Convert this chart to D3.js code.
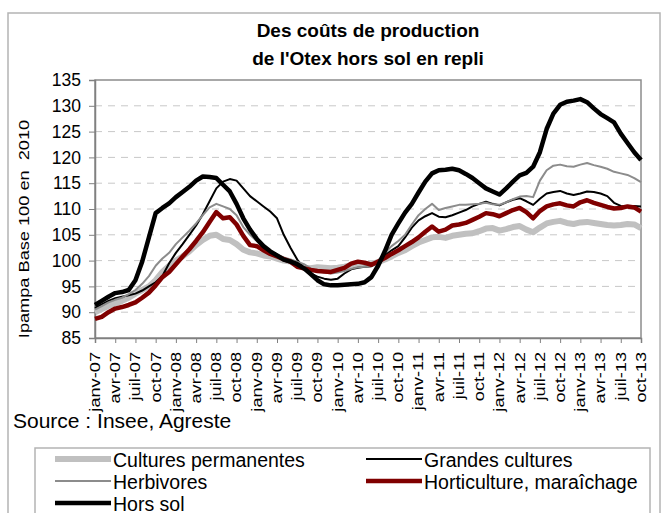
<!DOCTYPE html>
<html>
<head>
<meta charset="utf-8">
<script src="https://cdn.jsdelivr.net/npm/d3@7"></script>
<style>
  body { margin: 0; background: #fff; }
  svg text { font-family: Arial, "Liberation Sans", sans-serif; fill: #000; }
</style>
</head>
<body>
<svg id="chart" width="669" height="513"></svg>
<script>
// monthly index, janv-07 = 0 ... oct-13 = 81
const tickLabels = [
  "janv-07", "avr-07", "juil-07", "oct-07", "janv-08", "avr-08", "juil-08", "oct-08",
  "janv-09", "avr-09", "juil-09", "oct-09", "janv-10", "avr-10", "juil-10", "oct-10",
  "janv-11", "avr-11", "juil-11", "oct-11", "janv-12", "avr-12", "juil-12", "oct-12",
  "janv-13", "avr-13", "juil-13", "oct-13"
];
const yTicks = [85, 90, 95, 100, 105, 110, 115, 120, 125, 130, 135];

const culturesPermanentes = [
  90.0, 90.6, 91.2, 91.7, 92.2, 92.8, 93.6, 94.3, 95.0, 96.2, 97.8, 99.0,
  100.0, 100.8, 101.8, 103.0, 104.0, 104.8, 105.0, 104.2, 104.0, 103.2, 102.1, 101.6,
  101.4, 101.0, 100.8, 100.4, 100.0, 99.8, 99.2, 98.6, 98.5, 98.7, 98.6, 98.5,
  98.6, 98.8, 99.1, 99.2, 99.3, 99.3, 99.7, 100.2, 100.8, 101.5, 102.0, 102.8,
  103.5, 104.0, 104.5, 104.6, 104.4, 104.8, 105.0, 105.2, 105.3, 105.7, 106.2, 106.3,
  105.8, 106.1, 106.5, 106.7, 106.0, 105.5, 106.4, 107.2, 107.5, 107.7, 107.3, 107.1,
  107.4, 107.5, 107.3, 107.1, 106.9, 106.8, 106.9, 107.1, 107.0, 106.3
];
const grandesCultures = [
  90.8, 91.5, 92.2, 92.7, 93.0, 93.3, 93.6, 94.2, 95.0, 95.8, 97.0, 99.5,
  101.5, 103.2, 105.0, 106.8, 109.0, 111.5, 114.0, 115.3, 115.8, 115.5, 114.0, 112.5,
  111.5, 110.5, 109.5, 108.2, 105.0, 102.5, 100.2, 98.5, 97.5, 96.9, 96.5, 96.3,
  96.5, 97.5, 98.3, 98.6, 98.8, 98.9, 99.8, 101.0, 102.0, 102.8, 104.5, 106.4,
  107.8, 108.6, 109.2, 108.5, 108.4, 108.8, 109.3, 109.8, 110.5, 111.0, 111.4, 111.0,
  110.7, 111.3, 111.8, 112.1, 111.5, 110.8, 112.0, 113.0, 113.3, 113.5, 113.0, 112.7,
  113.0, 113.4, 113.3, 113.0, 112.5, 111.2, 110.6, 110.5, 110.6, 110.5
];
const herbivores = [
  90.5, 91.2, 91.9, 92.4, 92.8, 93.5, 94.3, 95.5, 97.0, 99.0, 100.4, 101.5,
  103.2, 104.5, 105.8, 107.2, 108.8, 110.3, 111.0, 110.5, 110.0, 108.8, 106.5, 105.0,
  103.8, 102.5, 101.8, 101.2, 100.6, 100.2, 99.8, 99.3, 98.5, 98.0, 97.7, 97.5,
  97.7, 98.0, 98.4, 98.7, 98.8, 99.0, 100.0, 101.5, 102.8, 103.8, 105.0, 107.0,
  108.8, 110.0, 111.0, 109.8, 110.2, 110.5, 110.8, 110.8, 110.9, 111.0, 111.2, 110.9,
  110.8, 111.3, 111.9, 112.4, 112.5, 112.3, 115.5, 117.5, 118.4, 118.6, 118.3, 118.2,
  118.6, 118.9, 118.5, 118.2, 117.8, 117.2, 116.9, 116.6, 116.0, 115.2
];
const horticulture = [
  88.7, 89.1, 90.0, 90.7, 91.0, 91.4, 91.9, 92.8, 93.8, 95.2, 96.8, 97.8,
  99.3, 100.8, 102.2, 103.8, 105.5, 107.5, 109.4, 108.2, 108.4, 107.0, 104.8, 103.0,
  102.8, 102.0, 101.3, 100.8, 100.3, 99.8, 98.8, 98.5, 98.2, 98.0, 97.9, 97.8,
  98.2, 98.6, 99.4, 99.8, 99.6, 99.2, 99.8, 100.5, 101.3, 102.0, 102.8, 103.6,
  104.5, 105.6, 106.6, 105.6, 106.0, 106.8, 107.0, 107.3, 107.9, 108.5, 109.2, 109.0,
  108.6, 109.2, 109.8, 110.2, 109.4, 108.2, 109.6, 110.5, 110.9, 111.1, 110.7, 110.5,
  111.3, 111.7, 111.2, 110.8, 110.4, 110.1, 110.2, 110.5, 110.3, 109.5
];
const horsSol = [
  91.4, 92.2, 93.0, 93.7, 93.9, 94.3, 96.2, 99.8, 104.5, 109.2, 110.2, 111.1,
  112.3, 113.3, 114.3, 115.5, 116.3, 116.2, 116.0, 114.7, 113.4, 111.0, 108.2, 106.0,
  104.2, 102.8, 101.8, 101.0, 100.2, 99.8, 99.3, 98.5, 97.4, 96.2, 95.4, 95.2,
  95.2, 95.3, 95.4, 95.5, 95.8, 96.8, 99.0, 101.8, 105.0, 107.2, 109.3, 111.0,
  113.2, 115.3, 116.9, 117.5, 117.6, 117.8, 117.5, 116.8, 116.0, 115.0, 114.0, 113.4,
  112.8, 114.0, 115.3, 116.5, 117.0, 118.2, 121.0, 125.5, 128.5, 130.2, 130.8, 131.0,
  131.3, 130.7, 129.5, 128.4, 127.6, 126.8, 124.6, 122.8, 121.0, 119.5
];

const seriesNames = ["Cultures permanentes", "Grandes cultures", "Herbivores",
  "Horticulture, maraîchage", "Hors sol"];
const seriesValues = [culturesPermanentes, grandesCultures, herbivores, horticulture, horsSol];
const seriesColors = ["#c0c0c0", "#000000", "#8c8c8c", "#800000", "#000000"];
const seriesWidths = [6, 2, 2, 4.5, 4.5];

const svg = d3.select("#chart");
const plotL = 95, plotR = 641, plotT = 80, plotB = 338;

const x = d3.scaleLinear().domain([0, culturesPermanentes.length - 1]).range([plotL, plotR]);
const y = d3.scaleLinear().domain([85, 135]).range([plotB, plotT]);

// chart area border
svg.append("rect")
  .attr("x", 8).attr("y", 13).attr("width", 652).attr("height", 520)
  .attr("fill", "none").attr("stroke", "#b4b4b4").attr("stroke-width", 1.5);

// title
svg.append("text")
  .attr("x", 368).attr("y", 37).attr("text-anchor", "middle")
  .style("font-size", "19px").style("font-weight", "bold")
  .text("Des coûts de production");
svg.append("text")
  .attr("x", 368).attr("y", 65).attr("text-anchor", "middle")
  .style("font-size", "19px").style("font-weight", "bold")
  .text("de l'Otex hors sol en repli");

// dashed grid
svg.append("g")
  .selectAll("line")
  .data(yTicks.filter(v => v > 85 && v < 135))
  .join("line")
  .attr("x1", plotL).attr("x2", plotR)
  .attr("y1", d => y(d)).attr("y2", d => y(d))
  .attr("stroke", "#c8c8c8").attr("stroke-dasharray", "7,6");

// plot border
svg.append("rect")
  .attr("x", plotL).attr("y", plotT).attr("width", plotR - plotL).attr("height", plotB - plotT)
  .attr("fill", "none").attr("stroke", "#8c8c8c").attr("stroke-width", 1.5);

// y axis
const yAxis = svg.append("g")
  .attr("transform", `translate(${plotL},0)`)
  .call(d3.axisLeft(y).tickValues(yTicks).tickSize(6).tickPadding(8));
yAxis.select(".domain").attr("stroke", "#808080").attr("stroke-width", 1.5);
yAxis.selectAll(".tick line").attr("stroke", "#808080");
yAxis.selectAll(".tick text")
  .style("font-size", "17.5px")
  .attr("font-family", null);

// x axis, a tick every 3 months
const xTickIdx = tickLabels.map((d, i) => i * 3);
const xAxis = svg.append("g")
  .attr("transform", `translate(0,${plotB})`)
  .call(d3.axisBottom(x).tickValues(xTickIdx).tickSize(5).tickFormat(""));
xAxis.select(".domain").attr("stroke", "#808080").attr("stroke-width", 1.5);
xAxis.selectAll(".tick line").attr("stroke", "#808080");

svg.append("g")
  .selectAll("text")
  .data(tickLabels)
  .join("text")
  .attr("transform", (d, i) => `translate(${x(xTickIdx[i])},352) rotate(-90) scale(1.3,1)`)
  .attr("text-anchor", "end")
  .attr("dy", "0.35em")
  .style("font-size", "14px")
  .text(d => d);

// y title
svg.append("text")
  .attr("transform", "translate(29,229) rotate(-90) scale(1.3,1)")
  .attr("text-anchor", "middle")
  .style("font-size", "14px")
  .style("white-space", "pre")
  .text("Ipampa Base 100 en  2010");

// lines
const line = d3.line().x((d, i) => x(i)).y(d => y(d));
svg.append("g")
  .selectAll("path")
  .data(seriesValues)
  .join("path")
  .attr("d", d => line(d))
  .attr("fill", "none")
  .attr("stroke", (d, i) => seriesColors[i])
  .attr("stroke-width", (d, i) => seriesWidths[i])
  .attr("stroke-linejoin", "round");

// source
svg.append("text")
  .attr("x", 13).attr("y", 428)
  .style("font-size", "21px")
  .text("Source : Insee, Agreste");

// legend
svg.append("rect")
  .attr("x", 35).attr("y", 448).attr("width", 615).attr("height", 80)
  .attr("fill", "#fff").attr("stroke", "#b4b4b4").attr("stroke-width", 1.5);

const legendPos = [[55, 459], [366, 459], [55, 481], [366, 481], [55, 503]];
const legend = svg.append("g")
  .selectAll("g")
  .data(seriesNames)
  .join("g")
  .attr("transform", (d, i) => `translate(${legendPos[i][0]},${legendPos[i][1]})`);
legend.append("line")
  .attr("x1", 0).attr("x2", 56)
  .attr("stroke", (d, i) => seriesColors[i])
  .attr("stroke-width", (d, i) => seriesWidths[i]);
legend.append("text")
  .attr("x", 58).attr("y", 1).attr("dy", "0.35em")
  .style("font-size", "19.5px")
  .text(d => d);
</script>
</body>
</html>
